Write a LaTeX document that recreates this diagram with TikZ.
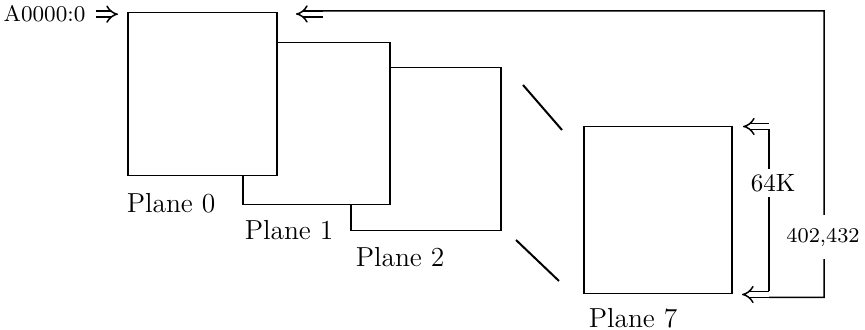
\documentclass[tikz,border=0pt]{standalone}
\usetikzlibrary{arrows.meta}
\usetikzlibrary{positioning}

\tikzset{
  plane/.style={draw, fill=white, rectangle, anchor=north west, inner sep=0pt,
                minimum width=60pt, minimum height=65.2pt},
  planelabel/.style={anchor=base west, inner sep=0pt, font=\fontsize{11}{13}\selectfont},
  dblarrow/.style={double, double distance=1.8pt, -{Implies}},
}

\begin{document}
\begin{tikzpicture}[x=0.4pt, y=-0.4pt, line width=0.6pt]
    \useasboundingbox (0,0) rectangle (865,330);

    % planes, back to front
    \node[plane] (p2) at (350,67) {};
    \node[plane, minimum width=58.8pt, minimum height=64.8pt] (p1) at (242,42) {};
    \node[plane, minimum width=59.6pt] (p0) at (127,12) {};
    \node[plane, minimum width=59.2pt, minimum height=66.8pt] (p7) at (583,126) {};

    \node[planelabel] (l0) at (126,213) {Plane 0};
    \node[planelabel] (l1) at (244,240) {Plane 1};
    \node[planelabel] (l2) at (355,267) {Plane 2};
    \node[planelabel] (l7) at (588,328) {Plane 7};

    % planes left out
    \draw[line width=0.8pt] (523,85) -- (562,130);
    \draw[line width=0.8pt] (516,240) -- (559,281);

    % start address
    \node[anchor=base west, inner sep=0pt, font=\fontsize{9}{11}\selectfont] (addr) at (3,22) {A0000:0};
    \draw[dblarrow] ([xshift=4pt]addr.east) -- ([xshift=-3.6pt]p0.north west |- addr.east);

    % size brackets
    \coordinate (outtip) at (296,14);
    \coordinate (outtail) at (323,14);
    \coordinate (ktip) at (743,126.5);
    \coordinate (ktail) at (769,126.5);
    \coordinate (btip) at (742,294.5);
    \coordinate (btail) at (769,294.5);
    \coordinate (cornertop) at (824,11);
    \coordinate (cornerbot) at (824,297.5);

    \draw[dblarrow] (outtail) -- (outtip);
    \draw[dblarrow] (ktail) -- (ktip);
    \draw[dblarrow] (btail) -- (btip);
    \draw ([yshift=1.2pt]outtail) -- (cornertop) -- (cornerbot) -- ([yshift=-1.2pt]btail);
    \draw ([yshift=-1.2pt]ktail) -- ([yshift=1.2pt]btail);

    \node[fill=white, inner xsep=1pt, inner ysep=2.2pt, font=\fontsize{10}{12}\selectfont] (size64) at (773,183) {64K};
    \node[fill=white, inner xsep=1pt, inner ysep=5.2pt, font=\fontsize{8.4}{10}\selectfont] (sizeall) at (823,237) {402,432};
\end{tikzpicture}
\end{document}
